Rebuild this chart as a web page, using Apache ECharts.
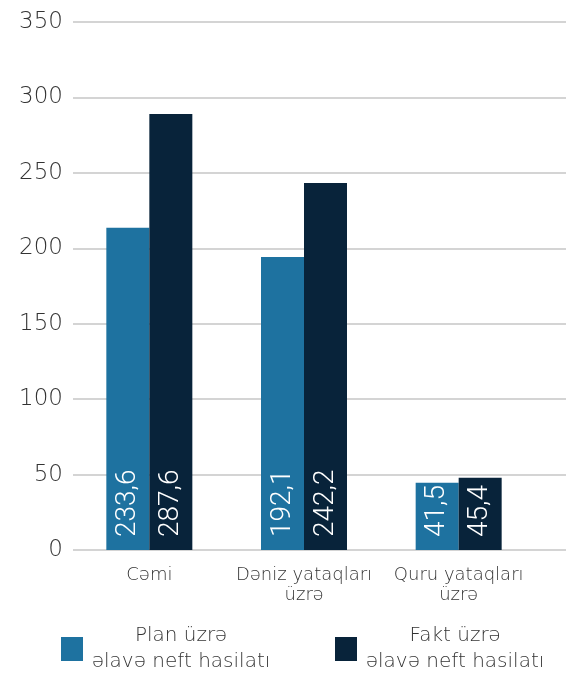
<!DOCTYPE html>
<html><head><meta charset="utf-8">
<script src="https://cdn.jsdelivr.net/npm/echarts@6/dist/echarts.min.js"></script>
<style>html,body{margin:0;padding:0;background:#fff}#c{width:566px;height:673px}</style>
</head><body><div id="c"></div>
<script>
const categories = ['Cəmi', 'Dəniz yataqları\nüzrə', 'Quru yataqları\nüzrə'];
const seriesNames = ['Plan üzrə\nəlavə neft hasilatı', 'Fakt üzrə\nəlavə neft hasilatı'];
const planValues = [213.6, 194.2, 44.6];
const factValues = [289.0, 243.3, 47.9];
const planLabels = ['233,6', '192,1', '41,5'];
const factLabels = ['287,6', '242,2', '45,4'];
const yTicks = [0, 50, 100, 150, 200, 250, 300, 350];

const FONT = 'DejaVu Sans';
const colors = ['#1e72a0', '#08233a'];

const chart = echarts.init(document.getElementById('c'), null, {renderer: 'canvas'});

function legendFmt(name) {
  const parts = name.split('\n');
  return parts.map(p => '{a|' + p + '}').join('\n');
}

const barLabel = (labels) => ({
  show: true,
  position: 'insideBottom',
  rotate: 90,
  align: 'left',
  verticalAlign: 'middle',
  distance: 13,
  color: '#fff',
  fontFamily: 'Roboto',
  fontWeight: 300,
  fontSize: 28,
  formatter: p => labels[p.dataIndex]
});

const legendText = {rich: {a: {fontSize: 20, lineHeight: 26, width: 186, align: 'center', color: '#333', fontFamily: FONT, fontWeight: 200}}};

chart.setOption({
  animation: false,
  textStyle: {fontFamily: FONT},
  grid: [
    {left: 73, right: 0, top: 22, bottom: 123},
    {left: 72, right: 30, top: 22, bottom: 123}
  ],
  xAxis: [
    {gridIndex: 0, type: 'category', data: categories, show: false},
    {gridIndex: 1, type: 'category', data: categories,
     axisLine: {show: false}, axisTick: {show: false},
     axisLabel: {color: '#333', fontSize: 18, lineHeight: 20, margin: 15, fontFamily: FONT, fontWeight: 200, interval: 0}}
  ],
  yAxis: [
    {gridIndex: 0, type: 'value', min: yTicks[0], max: yTicks[yTicks.length-1], interval: 50,
     axisLine: {show: false}, axisTick: {show: false},
     axisLabel: {color: '#333', fontSize: 23, margin: 10, fontFamily: FONT, fontWeight: 200},
     splitLine: {lineStyle: {color: '#c6c6c6', width: 1.5}}},
    {gridIndex: 1, type: 'value', min: yTicks[0], max: yTicks[yTicks.length-1], interval: 50, show: false,
     splitLine: {show: false}}
  ],
  legend: [
    {left: 61, top: 626, padding: 0, itemWidth: 22, itemHeight: 24, itemGap: 0, icon: 'rect',
     data: [seriesNames[0]], formatter: legendFmt, textStyle: legendText},
    {left: 335, top: 626, padding: 0, itemWidth: 22, itemHeight: 24, itemGap: 0, icon: 'rect',
     data: [seriesNames[1]], formatter: legendFmt, textStyle: legendText}
  ],
  series: [
    {name: seriesNames[0], type: 'bar', xAxisIndex: 1, yAxisIndex: 1, data: planValues,
     barWidth: 43, barGap: '0%', itemStyle: {color: colors[0]}, label: barLabel(planLabels)},
    {name: seriesNames[1], type: 'bar', xAxisIndex: 1, yAxisIndex: 1, data: factValues,
     barWidth: 43, barGap: '0%', itemStyle: {color: colors[1]}, label: barLabel(factLabels)}
  ]
});
</script></body></html>
